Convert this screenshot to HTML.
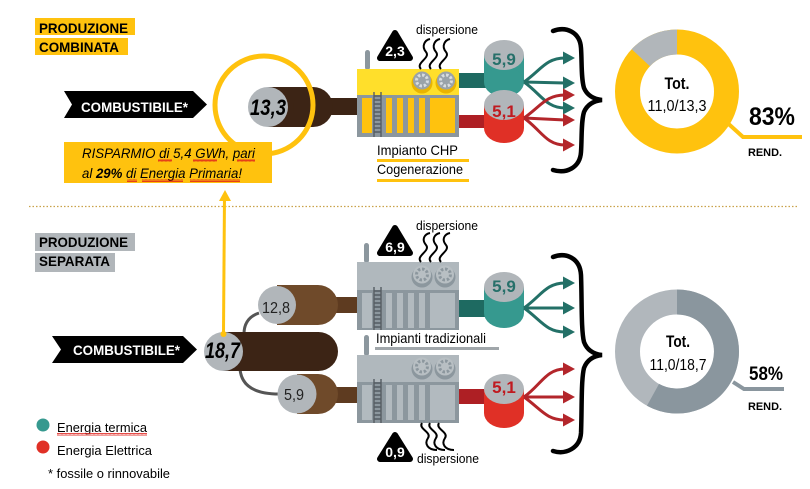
<!DOCTYPE html>
<html><head><meta charset="utf-8"><style>
html,body{margin:0;padding:0;background:#fff;}
svg{display:block;font-family:"Liberation Sans",Arial,sans-serif;}
</style></head><body>
<svg width="810" height="489" viewBox="0 0 810 489" xmlns="http://www.w3.org/2000/svg">
<defs>
<pattern id="zz" width="4" height="3" patternUnits="userSpaceOnUse"><path d="M0 2.5 L1 0.5 L2 2.5 L3 0.5 L4 2.5" stroke="#e0201a" stroke-width="0.8" fill="none"/></pattern>
</defs>
<rect width="810" height="489" fill="#fff"/>

<!-- ===== TOP SECTION ===== -->
<rect x="35" y="18" width="100" height="17" fill="#ffc20e"/>
<rect x="35" y="38" width="93" height="17" fill="#ffc20e"/>
<text x="39" y="33" font-size="14" font-weight="bold" textLength="89" lengthAdjust="spacingAndGlyphs">PRODUZIONE</text>
<text x="39" y="52" font-size="14" font-weight="bold" textLength="80" lengthAdjust="spacingAndGlyphs">COMBINATA</text>

<polygon points="64,91 193,91 207,104.5 193,118 64,118 72,104.5" fill="#000"/>
<text x="81" y="112" font-size="14" font-weight="bold" fill="#fff" textLength="107" lengthAdjust="spacingAndGlyphs">COMBUSTIBILE*</text>

<!-- brown cylinder 13,3 -->
<rect x="328" y="98" width="32" height="17" fill="#3c2415"/>
<rect x="268" y="87" width="45" height="40" fill="#3c2415"/>
<circle cx="313" cy="107" r="20" fill="#3c2415"/>
<circle cx="268" cy="107" r="20" fill="#b1b6ba"/>
<text x="250" y="115" font-size="22" font-weight="bold" font-style="italic" textLength="36" lengthAdjust="spacingAndGlyphs">13,3</text>
<circle cx="264" cy="105" r="49" fill="none" stroke="#ffc20e" stroke-width="5"/>

<!-- savings box -->
<rect x="64" y="142" width="208" height="41" fill="#ffc20e"/>
<text x="82" y="158" font-size="14" font-style="italic" textLength="173" lengthAdjust="spacingAndGlyphs">RISPARMIO di 5,4 GWh,  pari</text>
<text x="82" y="178" font-size="14" font-style="italic" textLength="160" lengthAdjust="spacingAndGlyphs">al <tspan font-weight="bold">29%</tspan> di Energia  Primaria!</text>
<rect x="158" y="159" width="14" height="3" fill="url(#zz)"/>
<rect x="193" y="159" width="24" height="3" fill="url(#zz)"/>
<rect x="237" y="159" width="18" height="3" fill="url(#zz)"/>
<rect x="127" y="179" width="10" height="3" fill="url(#zz)"/>
<rect x="142" y="179" width="41" height="3" fill="url(#zz)"/>
<rect x="190" y="179" width="50" height="3" fill="url(#zz)"/>

<!-- CHP plant -->
<rect x="365" y="50" width="5" height="20" rx="2.5" fill="#8c979e"/>
<rect x="357" y="69" width="102" height="26" fill="#ffdf2b"/>
<rect x="357" y="95" width="102" height="42" fill="#8c979e"/>
<g fill="#ffc20e">
<rect x="362" y="98" width="10" height="35"/><rect x="386" y="98" width="6" height="35"/>
<rect x="397" y="98" width="6" height="35"/><rect x="408" y="98" width="6" height="35"/>
<rect x="419" y="98" width="6" height="35"/><rect x="430" y="98" width="25" height="35"/>
</g>
<g stroke="#555d63" stroke-width="1.4">
<line x1="374" y1="92" x2="374" y2="137"/><line x1="381" y1="92" x2="381" y2="137"/>
<path d="M374 96H381M374 100H381M374 104H381M374 108H381M374 112H381M374 116H381M374 120H381M374 124H381M374 128H381M374 132H381"/>
</g>
<g>
<circle cx="422" cy="83" r="10.5" fill="#eab400"/><circle cx="422" cy="80.5" r="9" fill="#9aa3a9"/>
<circle cx="422" cy="80.5" r="5.5" fill="none" stroke="#d9dde0" stroke-width="3" stroke-dasharray="2.5 1.8"/>
<circle cx="446" cy="83" r="10.5" fill="#eab400"/><circle cx="446" cy="80.5" r="9" fill="#9aa3a9"/>
<circle cx="446" cy="80.5" r="5.5" fill="none" stroke="#d9dde0" stroke-width="3" stroke-dasharray="2.5 1.8"/>
</g>
<polygon points="395,33 380,58 410,58" fill="#000" stroke="#000" stroke-width="6" stroke-linejoin="round"/>
<text x="395" y="56" font-size="14" font-weight="bold" fill="#fff" text-anchor="middle">2,3</text>
<text x="416" y="34" font-size="13" textLength="62" lengthAdjust="spacingAndGlyphs">dispersione</text>
<g fill="none" stroke="#000" stroke-width="2">
<path d="M421 69 C415 63,431 58,426 52 C421 46,425 40,430 39"/>
<path d="M431 69 C425 63,441 58,436 52 C431 46,435 40,440 39"/>
<path d="M441 69 C435 63,451 58,446 52 C441 46,445 40,450 39"/>
</g>
<text x="377" y="155" font-size="14" textLength="81" lengthAdjust="spacingAndGlyphs">Impianto CHP</text>
<rect x="377" y="159" width="92" height="3" fill="#ffc20e"/>
<text x="377" y="174" font-size="14" textLength="86" lengthAdjust="spacingAndGlyphs">Cogenerazione</text>
<rect x="377" y="179" width="92" height="3" fill="#ffc20e"/>

<!-- pipes and cylinders top -->
<rect x="459" y="73" width="30" height="15" fill="#1e6a61"/>
<rect x="459" y="115" width="30" height="13" fill="#ae1f24"/>
<rect x="484" y="55" width="40" height="27" fill="#36998f"/>
<ellipse cx="504" cy="82" rx="20" ry="15" fill="#36998f"/>
<ellipse cx="504" cy="55" rx="20" ry="15" fill="#b1b6ba"/>
<text x="504" y="65" font-size="17" font-weight="bold" fill="#27706a" text-anchor="middle">5,9</text>
<rect x="484" y="105" width="40" height="23" fill="#e03026"/>
<ellipse cx="504" cy="128" rx="20" ry="15" fill="#e03026"/>
<ellipse cx="504" cy="105" rx="20" ry="15" fill="#b1b6ba"/>
<text x="504" y="117" font-size="17" font-weight="bold" fill="#c01a20" text-anchor="middle">5,1</text>

<!-- arrows top -->
<g fill="none" stroke-width="3">
<g stroke="#237067">
<path d="M524 82 C541 70,546 58,565 58"/><path d="M524 82 L565 83"/><path d="M524 82 C541 94,546 108,565 108"/>
</g>
<g stroke="#b3262b">
<path d="M524 118 C541 106,546 95,565 95"/><path d="M524 118 L565 120"/><path d="M524 118 C541 130,546 145,565 145"/>
</g>
</g>
<g fill="#237067">
<polygon points="575,58 563,51.5 563,64.5"/><polygon points="575,83 563,76.5 563,89.5"/><polygon points="575,108 563,101.5 563,114.5"/>
</g>
<g fill="#b3262b">
<polygon points="575,95 563,88.5 563,101.5"/><polygon points="575,120 563,113.5 563,126.5"/><polygon points="575,145 563,138.5 563,151.5"/>
</g>
<path d="M553 31 C566 26,580 32,581 48 C582 62,581 78,584 88 C587 95,593 99,602 100 C593 101,587 105,584 112 C581 122,582 138,581 152 C580 168,566 174,553 170" fill="none" stroke="#000" stroke-width="4.5" stroke-linecap="round"/>

<!-- donut top -->
<circle cx="677" cy="91.5" r="49.5" fill="none" stroke="#ffc20e" stroke-width="25"/>
<path d="M677 42 A49.5 49.5 0 0 0 640.8 57.7" fill="none" stroke="#b1b6ba" stroke-width="25"/>
<text x="677" y="89" font-size="17" font-weight="bold" text-anchor="middle" textLength="25" lengthAdjust="spacingAndGlyphs">Tot.</text>
<text x="677" y="111" font-size="16" text-anchor="middle" textLength="59" lengthAdjust="spacingAndGlyphs">11,0/13,3</text>
<polyline points="722,118 743,137 802,137" fill="none" stroke="#ffc20e" stroke-width="4"/>
<text x="749" y="125" font-size="25" font-weight="bold" textLength="46" lengthAdjust="spacingAndGlyphs">83%</text>
<text x="748" y="156" font-size="11" font-weight="bold" textLength="34" lengthAdjust="spacingAndGlyphs">REND.</text>

<!-- separator -->
<line x1="29" y1="206.5" x2="797" y2="206.5" stroke="#c9a24a" stroke-width="1.2" stroke-dasharray="1.5 2"/>

<!-- ===== BOTTOM SECTION ===== -->
<rect x="35" y="233" width="100" height="18" fill="#b1b6ba"/>
<rect x="35" y="253" width="80" height="19" fill="#b1b6ba"/>
<text x="39" y="247" font-size="14" font-weight="bold" textLength="89" lengthAdjust="spacingAndGlyphs">PRODUZIONE</text>
<text x="39" y="266" font-size="14" font-weight="bold" textLength="71" lengthAdjust="spacingAndGlyphs">SEPARATA</text>

<polygon points="52,336 183,336 197,349.5 183,363 52,363 61,349.5" fill="#000"/>
<text x="73" y="355" font-size="14" font-weight="bold" fill="#fff" textLength="107" lengthAdjust="spacingAndGlyphs">COMBUSTIBILE*</text>

<!-- yellow arrow -->
<line x1="223.5" y1="332" x2="224.5" y2="196" stroke="#ffc20e" stroke-width="3"/>
<polygon points="225,190 219,201 231,201" fill="#ffc20e"/>

<!-- gray connectors -->
<g fill="none" stroke="#555" stroke-width="3">
<path d="M259 313 Q244 318 244 334"/>
<path d="M240 369 Q242 394 279 394"/>
</g>
<!-- brown cylinders bottom -->
<rect x="335" y="297" width="25" height="16" fill="#5e3b20"/>
<rect x="335" y="387" width="25" height="16" fill="#5e3b20"/>
<rect x="277" y="285" width="41" height="40" fill="#6f4a2a"/><circle cx="318" cy="305" r="20" fill="#6f4a2a"/>
<circle cx="277" cy="305" r="19" fill="#b1b6ba"/>
<text x="262" y="313" font-size="16" textLength="28" lengthAdjust="spacingAndGlyphs" fill="#222">12,8</text>
<rect x="297" y="374" width="21" height="40" fill="#6f4a2a"/><circle cx="318" cy="394" r="20" fill="#6f4a2a"/>
<circle cx="297" cy="394" r="19.5" fill="#b1b6ba"/>
<text x="284" y="400" font-size="16" textLength="20" lengthAdjust="spacingAndGlyphs" fill="#222">5,9</text>
<rect x="223" y="332" width="96" height="39" fill="#3c2415"/><circle cx="318.5" cy="351.5" r="19.5" fill="#3c2415"/>
<circle cx="223.5" cy="351.5" r="19.5" fill="#b1b6ba"/>
<circle cx="223.5" cy="334" r="3" fill="#ffc20e"/>
<text x="205" y="358" font-size="22" font-weight="bold" font-style="italic" textLength="35" lengthAdjust="spacingAndGlyphs">18,7</text>

<!-- upper traditional plant -->
<rect x="364" y="243" width="5" height="20" rx="2.5" fill="#8c979e"/>
<rect x="357" y="262" width="102" height="28" fill="#b0b8bd"/>
<rect x="357" y="290" width="102" height="40" fill="#8c979e"/>
<g fill="#b2babf">
<rect x="362" y="293" width="10" height="35"/><rect x="386" y="293" width="6" height="35"/>
<rect x="397" y="293" width="6" height="35"/><rect x="408" y="293" width="6" height="35"/>
<rect x="419" y="293" width="6" height="35"/><rect x="430" y="293" width="25" height="35"/>
</g>
<g stroke="#555d63" stroke-width="1.4">
<line x1="374" y1="287" x2="374" y2="330"/><line x1="381" y1="287" x2="381" y2="330"/>
<path d="M374 291H381M374 295H381M374 299H381M374 303H381M374 307H381M374 311H381M374 315H381M374 319H381M374 323H381M374 327H381"/>
</g>
<circle cx="422" cy="277" r="10.5" fill="#8c979e"/><circle cx="422" cy="274.5" r="9" fill="#b8bfc3"/>
<circle cx="422" cy="274.5" r="5.5" fill="none" stroke="#8c979e" stroke-width="3" stroke-dasharray="2.5 1.8"/>
<circle cx="445" cy="277" r="10.5" fill="#8c979e"/><circle cx="445" cy="274.5" r="9" fill="#b8bfc3"/>
<circle cx="445" cy="274.5" r="5.5" fill="none" stroke="#8c979e" stroke-width="3" stroke-dasharray="2.5 1.8"/>
<polygon points="395,228 380,253 410,253" fill="#000" stroke="#000" stroke-width="6" stroke-linejoin="round"/>
<text x="395" y="252" font-size="14" font-weight="bold" fill="#fff" text-anchor="middle">6,9</text>
<text x="416" y="230" font-size="13" textLength="62" lengthAdjust="spacingAndGlyphs">dispersione</text>
<g fill="none" stroke="#000" stroke-width="2">
<path d="M421 262 C415 256,431 251,426 245 C421 239,425 234,430 233"/>
<path d="M431 262 C425 256,441 251,436 245 C431 239,435 234,440 233"/>
<path d="M441 262 C435 256,451 251,446 245 C441 239,445 234,450 233"/>
</g>

<text x="376" y="343" font-size="14" textLength="110" lengthAdjust="spacingAndGlyphs">Impianti tradizionali</text>
<rect x="375" y="347" width="124" height="3" fill="#a0a6aa"/>

<!-- lower traditional plant -->
<rect x="364" y="335" width="5" height="21" rx="2.5" fill="#8c979e"/>
<rect x="357" y="355" width="102" height="27" fill="#b0b8bd"/>
<rect x="357" y="382" width="102" height="41" fill="#8c979e"/>
<g fill="#b2babf">
<rect x="362" y="385" width="10" height="35"/><rect x="386" y="385" width="6" height="35"/>
<rect x="397" y="385" width="6" height="35"/><rect x="408" y="385" width="6" height="35"/>
<rect x="419" y="385" width="6" height="35"/><rect x="430" y="385" width="25" height="35"/>
</g>
<g stroke="#555d63" stroke-width="1.4">
<line x1="374" y1="379" x2="374" y2="423"/><line x1="381" y1="379" x2="381" y2="423"/>
<path d="M374 383H381M374 387H381M374 391H381M374 395H381M374 399H381M374 403H381M374 407H381M374 411H381M374 415H381M374 419H381"/>
</g>
<circle cx="422" cy="369" r="10.5" fill="#8c979e"/><circle cx="422" cy="366.5" r="9" fill="#b8bfc3"/>
<circle cx="422" cy="366.5" r="5.5" fill="none" stroke="#8c979e" stroke-width="3" stroke-dasharray="2.5 1.8"/>
<circle cx="445" cy="369" r="10.5" fill="#8c979e"/><circle cx="445" cy="366.5" r="9" fill="#b8bfc3"/>
<circle cx="445" cy="366.5" r="5.5" fill="none" stroke="#8c979e" stroke-width="3" stroke-dasharray="2.5 1.8"/>
<g fill="none" stroke="#000" stroke-width="2">
<path d="M422 423 C418 429,432 432,428 438 C424 444,428 450,437 450"/>
<path d="M430 423 C426 429,440 432,436 438 C432 444,436 450,445 450"/>
<path d="M439 423 C435 429,449 432,445 438 C441 444,445 450,454 450"/>
</g>
<polygon points="395,435 380,459 410,459" fill="#000" stroke="#000" stroke-width="6" stroke-linejoin="round"/>
<text x="395" y="457" font-size="14" font-weight="bold" fill="#fff" text-anchor="middle">0,9</text>
<text x="417" y="463" font-size="13" textLength="62" lengthAdjust="spacingAndGlyphs">dispersione</text>

<!-- pipes and cylinders bottom -->
<rect x="459" y="300" width="30" height="17" fill="#1e6a61"/>
<rect x="459" y="389" width="30" height="15" fill="#ae1f24"/>
<rect x="484" y="287" width="40" height="26" fill="#36998f"/>
<ellipse cx="504" cy="313" rx="20" ry="15" fill="#36998f"/>
<ellipse cx="504" cy="287" rx="20" ry="15" fill="#b1b6ba"/>
<text x="504" y="292" font-size="17" font-weight="bold" fill="#27706a" text-anchor="middle">5,9</text>
<rect x="484" y="389" width="40" height="24" fill="#e03026"/>
<ellipse cx="504" cy="413" rx="20" ry="15" fill="#e03026"/>
<ellipse cx="504" cy="389" rx="20" ry="15" fill="#b1b6ba"/>
<text x="504" y="393" font-size="17" font-weight="bold" fill="#c01a20" text-anchor="middle">5,1</text>

<g fill="none" stroke-width="3">
<g stroke="#237067">
<path d="M524 308 C541 296,546 283,565 283"/><path d="M524 308 L565 308"/><path d="M524 308 C541 320,546 332,565 332"/>
</g>
<g stroke="#b3262b">
<path d="M524 397 C541 385,546 369,565 369"/><path d="M524 397 L565 397"/><path d="M524 397 C541 409,546 420,565 420"/>
</g>
</g>
<g fill="#237067">
<polygon points="575,283 563,276.5 563,289.5"/><polygon points="575,308 563,301.5 563,314.5"/><polygon points="575,332 563,325.5 563,338.5"/>
</g>
<g fill="#b3262b">
<polygon points="575,369 563,362.5 563,375.5"/><polygon points="575,397 563,390.5 563,403.5"/><polygon points="575,420 563,413.5 563,426.5"/>
</g>
<path d="M553 257 C566 252,580 258,581 275 C582 300,581 330,584 342 C587 350,593 354,602 355 C593 356,587 360,584 368 C581 380,582 410,581 433 C580 448,566 455,553 451" fill="none" stroke="#000" stroke-width="4.5" stroke-linecap="round"/>

<!-- donut bottom -->
<circle cx="677" cy="351.5" r="49.5" fill="none" stroke="#b1b7bc" stroke-width="25"/>
<path d="M677 302 A49.5 49.5 0 1 1 653 394.8" fill="none" stroke="#8a969e" stroke-width="25"/>
<text x="678" y="347" font-size="17" font-weight="bold" text-anchor="middle" textLength="24" lengthAdjust="spacingAndGlyphs">Tot.</text>
<text x="678" y="370" font-size="16" text-anchor="middle" textLength="57" lengthAdjust="spacingAndGlyphs">11,0/18,7</text>
<polyline points="733,382 744,389 784,389" fill="none" stroke="#8a969e" stroke-width="4"/>
<text x="749" y="380" font-size="19" font-weight="bold" textLength="34" lengthAdjust="spacingAndGlyphs">58%</text>
<text x="748" y="410" font-size="11" font-weight="bold" textLength="34" lengthAdjust="spacingAndGlyphs">REND.</text>

<!-- legend -->
<circle cx="43" cy="425" r="6.5" fill="#36998f"/>
<circle cx="43" cy="447" r="6.5" fill="#e03026"/>
<text x="57" y="432" font-size="13" textLength="90" lengthAdjust="spacingAndGlyphs">Energia termica</text>
<rect x="57" y="433" width="90" height="3" fill="url(#zz)"/>
<text x="57" y="455" font-size="13" textLength="95" lengthAdjust="spacingAndGlyphs">Energia Elettrica</text>
<text x="48" y="478" font-size="13" textLength="122" lengthAdjust="spacingAndGlyphs">* fossile o rinnovabile</text>
</svg>
</body></html>
